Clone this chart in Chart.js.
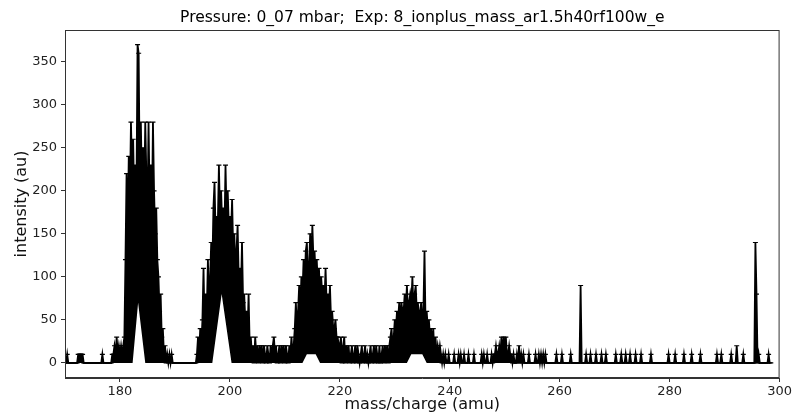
<!DOCTYPE html>
<html>
<head>
<meta charset="utf-8">
<script src="https://cdn.jsdelivr.net/npm/chart.js@4/dist/chart.umd.min.js"></script>
<style>
  html, body { margin: 0; padding: 0; background: #fff; }
  #wrap { width: 794px; height: 414px; }
</style>
</head>
<body>
<div id="wrap"><canvas id="spectrum" width="794" height="414"></canvas></div>
<script>
// mass axis sampling of the scan
const mzFirst = 170.0;
const mzLast = 298.4;
const mzStep = 0.2;

// first ion group, read every 0.2 amu from 178.6
const band1Start = 178.6;
const band1 = [
  10, 10, 20, 10, 30, 10, 20, 10, 20, 10, 20,
  30, 120, 220, 150, 240, 190, 280, 220, 260, 180,
  230, 200, 370, 360, 210, 280, 200, 250, 190, 280,
  220, 170, 280, 190, 230, 160, 280, 200, 150, 180,
  120, 100, 60, 80, 30, 40, 10, 20, 0, 10,
  0, 10, 0, 10, 0
];

// second..fourth ion groups, every 0.2 amu from 194.0
const band2Start = 194.0;
const band2 = [
  10, 30, 10, 40, 20, 50, 110, 40, 80, 60,
  120, 70, 100, 140, 110, 180, 210, 150, 170, 160,
  230, 170, 200, 160, 180, 150, 230, 170, 200, 160,
  170, 150, 190, 130, 150, 110, 130, 160, 100, 110,
  80, 140, 70, 80, 50, 60, 30, 80, 20, 30,
  10, 20, 0, 30, 10, 20, 0, 20, 10, 20,
  0, 20, 10, 0, 20, 10, 0, 20, 10, 20,
  30, 10, 20, 0, 10, 20, 0, 20, 10, 20,
  0, 20, 10, 0, 20, 10, 30, 10, 20, 40,
  70, 40, 60, 90, 60, 100, 80, 120, 90, 130,
  140, 100, 110, 150, 110, 160, 120, 130, 100, 120,
  90, 110, 80, 100, 80, 90, 70, 110, 70, 80,
  60, 90, 50, 60, 40, 40, 50, 30, 30, 20,
  20, 30, 0, 20, 30, 0, 20, 10, 20, 0,
  10, 20, 0, 10, 20, 0, 20, 10, 0, 10,
  20, 0, 10, 20, 0, 10, 0, 10, 20, 0,
  10, 20, 0, 20, 10, 0, 20, 0, 10, 20,
  0, 20, 10, 20, 0, 20, 30, 40, 20, 30,
  50, 40, 60, 50, 70, 50, 70, 60, 60, 80,
  60, 90, 60, 70, 80, 70, 100, 60, 80, 90,
  60, 70, 50, 60, 70, 50, 60, 130, 40, 60,
  40, 50, 30, 40, 20, 40, 10, 30, 10, 20,
  10, 20, 10, 0
];

// isolated counts on the baseline
const hitMz = [
  170.4, 172.4, 172.6, 172.8, 173.0, 173.2, 176.8,
  238.8, 239.2, 239.8, 240.8, 241.6, 242.0, 242.6, 243.4, 244.4, 245.8, 246.2, 246.8, 247.6,
  248.0, 248.2, 248.4, 248.6, 248.8, 249.0, 249.2, 249.4, 249.6, 249.8,
  250.0, 250.2, 250.4, 250.6, 250.8, 251.0, 251.2, 251.6, 252.2, 252.6,
  253.0, 253.4, 254.4, 255.6, 256.2, 256.6, 257.0, 257.4, 259.4, 260.4,
  262.0, 263.8, 264.8, 265.6, 266.6, 267.6, 268.4, 270.2, 271.2, 272.0,
  272.8, 273.8, 274.8, 276.6, 279.8, 281.0, 282.6, 284.0, 285.6, 288.6,
  289.4, 291.2, 292.2, 293.4, 295.6, 295.8, 296.2, 298.0
];
const hitInt = [
  10, 10, 10, 10, 10, 10, 10,
  10, 10, 10, 10, 10, 10, 10, 10, 10, 10, 10, 10, 10,
  10, 10, 20, 10, 10, 20, 10, 30, 10, 30,
  20, 30, 10, 10, 20, 10, 10, 10, 10, 20,
  10, 10, 10, 10, 10, 10, 10, 10, 10, 10,
  10, 90, 10, 10, 10, 10, 10, 10, 10, 10,
  10, 10, 10, 10, 10, 10, 10, 10, 10, 10,
  10, 10, 20, 10, 140, 80, 10, 10
];

// lower edge of the dense error-bar mass (white gaps under the peak centres)
const floorMz = [170.0, 182.3, 183.3, 184.6, 196.8, 198.5, 200.3, 213.2, 214.0, 215.6, 216.4, 232.2, 233.0, 235.0, 235.8, 298.4];
const floorInt = [0, 0, 70, 0, 0, 80, 0, 0, 10, 10, 0, 0, 10, 10, 0, 0];

const xTicks = [180, 200, 220, 240, 260, 280, 300];
const yTicks = [0, 50, 100, 150, 200, 250, 300, 350];

const titleText = 'Pressure: 0_07 mbar;  Exp: 8_ionplus_mass_ar1.5h40rf100w_e';

// put everything on the scan grid
const nPts = Math.round((mzLast - mzFirst) / mzStep) + 1;
const counts = new Array(nPts).fill(0);
const idx = m => Math.round((m - mzFirst) / mzStep);
band1.forEach((v, i) => { counts[idx(band1Start) + i] = v; });
band2.forEach((v, i) => { counts[idx(band2Start) + i] = v; });
hitMz.forEach((m, i) => { counts[idx(m)] = hitInt[i]; });
const points = counts.map((v, i) => ({ x: +(mzFirst + i * mzStep).toFixed(1), y: v }));
const floorPts = floorMz.map((m, i) => ({ x: m, y: floorInt[i] }));

const font = 'DejaVu Sans';
const axisColor = '#333';

// matplotlib-like frame, and the title centred over the axes box
const frame = {
  id: 'frame',
  afterDraw(chart) {
    const a = chart.chartArea, ctx = chart.ctx;
    ctx.save();
    ctx.strokeStyle = axisColor;
    ctx.lineWidth = 1;
    ctx.strokeRect(a.left + 0.5, a.top + 0.5, a.right - a.left - 1, a.bottom - a.top - 1);
    ctx.fillStyle = '#000';
    ctx.font = '15.5px "' + font + '"';
    ctx.textAlign = 'center';
    ctx.textBaseline = 'middle';
    ctx.fillText(titleText, (a.left + a.right) / 2, 18);
    ctx.restore();
  }
};

new Chart(document.getElementById('spectrum'), {
  type: 'line',
  data: {
    datasets: [{
      data: points,
      borderColor: '#000',
      backgroundColor: '#000',
      borderWidth: 1.8,
      pointStyle: 'line',
      pointRadius: 2.5,
      pointBorderWidth: 1.2,
      pointBorderColor: '#000',
      fill: 1,
      tension: 0
    }, {
      data: floorPts,
      borderWidth: 0,
      pointRadius: 0,
      fill: false
    }]
  },
  options: {
    responsive: false,
    animation: false,
    events: [],
    layout: { padding: { left: 0, right: 11, top: 30, bottom: 0 } },
    plugins: {
      legend: { display: false },
      tooltip: { enabled: false },
      title: { display: false }
    },
    scales: {
      x: {
        type: 'linear',
        min: 170,
        max: 300,
        afterBuildTicks: s => { s.ticks = xTicks.map(v => ({ value: v })); },
        afterFit: s => { s.height = 36; },
        grid: { drawOnChartArea: false, drawTicks: true, tickLength: 4, color: axisColor },
        border: { display: true, color: axisColor },
        ticks: { color: '#222', font: { family: font, size: 13 }, padding: 2, maxRotation: 0 },
        title: { display: true, text: 'mass/charge (amu)', color: '#111', font: { family: font, size: 16 }, padding: 0 }
      },
      y: {
        min: -17.5,
        max: 387,
        afterBuildTicks: s => { s.ticks = yTicks.map(v => ({ value: v })); },
        afterFit: s => { s.width = 65; },
        grid: { drawOnChartArea: false, drawTicks: true, tickLength: 4, color: axisColor },
        border: { display: true, color: axisColor },
        ticks: { color: '#222', font: { family: font, size: 13 }, padding: 4 },
        title: { display: true, text: 'intensity (au)', color: '#111', font: { family: font, size: 16 }, padding: { top: 12, bottom: 0 } }
      }
    }
  },
  plugins: [frame]
});
</script>
</body>
</html>
